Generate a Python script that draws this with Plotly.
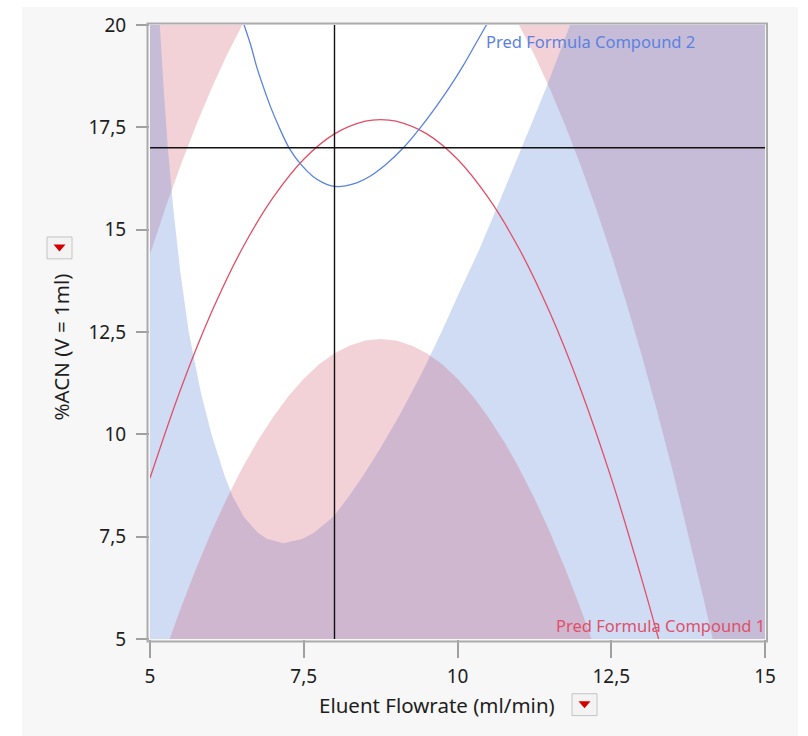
import plotly.graph_objects as go

# ---------------- data ----------------
X_RANGE = [5, 15]
Y_RANGE = [5, 20]
X_TICKS = [5, 7.5, 10, 12.5, 15]
X_TICK_TEXT = ["5", "7,5", "10", "12,5", "15"]
Y_TICKS = [5, 7.5, 10, 12.5, 15, 17.5, 20]
Y_TICK_TEXT = ["5", "7,5", "10", "12,5", "15", "17,5", "20"]
X_TITLE = "Eluent Flowrate (ml/min)"
Y_TITLE = "%ACN (V = 1ml)"
C1_NAME = "Pred Formula Compound 1"
C2_NAME = "Pred Formula Compound 2"

CURRENT_FLOW = 8.0
CURRENT_ACN = 17.0

# Compound 1: contour at current value
c1_line_x = [5.0, 5.5, 6.0, 6.5, 7.0, 7.5, 8.0, 8.5, 8.75, 9.0, 9.5, 10.0, 10.5,
             11.0, 11.5, 12.0, 12.5, 13.0, 13.27]
c1_line_y = [8.93, 11.11, 12.98, 14.54, 15.78, 16.72, 17.34, 17.65, 17.69, 17.65,
             17.34, 16.72, 15.78, 14.54, 12.98, 11.11, 8.93, 6.44, 5.0]

# Compound 1: upper limit contour (left and right parts) -> shaded above
c1_hi_left_x = [5.0, 5.25, 5.5, 5.75, 6.0, 6.25, 6.5]
c1_hi_left_y = [14.40, 15.53, 16.58, 17.55, 18.45, 19.27, 20.0]
c1_hi_right_x = [11.0, 11.25, 11.5, 11.75, 12.0, 12.25, 12.5, 12.75, 13.0, 13.25,
                 13.5, 13.75, 14.0, 14.15]
c1_hi_right_y = [20.0, 19.27, 18.45, 17.55, 16.58, 15.53, 14.40, 13.19, 11.91,
                 10.54, 9.10, 7.58, 5.99, 5.0]

# Compound 1: lower limit contour -> shaded below
c1_lo_x = [5.32, 5.5, 5.75, 6.0, 6.25, 6.5, 6.75, 7.0, 7.25, 7.5, 7.75, 8.0, 8.25,
           8.5, 8.75, 9.0, 9.25, 9.5, 9.75, 10.0, 10.25, 10.5, 10.75, 11.0, 11.25,
           11.5, 11.75, 12.0, 12.18]
c1_lo_y = [5.0, 5.75, 6.72, 7.62, 8.44, 9.18, 9.84, 10.42, 10.93, 11.36, 11.71,
           11.98, 12.17, 12.29, 12.33, 12.29, 12.17, 11.98, 11.71, 11.36, 10.93,
           10.42, 9.84, 9.18, 8.44, 7.62, 6.72, 5.75, 5.0]

# Compound 2: contour at current value
c2_line_x = [6.53, 6.64, 6.73, 6.84, 6.96, 7.10, 7.26, 7.45, 7.65, 7.81, 7.95, 8.06,
             8.18, 8.37, 8.57, 8.84, 9.12, 9.40, 9.65, 9.88, 10.09, 10.28, 10.47]
c2_line_y = [20.0, 19.5, 19.0, 18.5, 18.0, 17.5, 17.0, 16.6, 16.3, 16.15, 16.07, 16.05,
             16.07, 16.15, 16.3, 16.6, 17.0, 17.5, 18.0, 18.5, 19.0, 19.5, 20.0]

# Compound 2: limit contour (U shape) -> shaded outside
c2_lim_x = [5.16, 5.22, 5.29, 5.38, 5.49, 5.63, 5.83, 6.00, 6.21, 6.34, 6.52, 6.75,
            6.90, 7.17, 7.48, 7.67, 7.99, 8.24, 8.47, 8.75, 9.07, 9.42, 9.74, 10.04,
            10.35, 10.63, 10.91, 11.18, 11.45, 11.83]
c2_lim_y = [20.0, 18.5, 17.0, 15.5, 14.0, 12.5, 11.0, 10.0, 9.0, 8.5, 8.0, 7.6,
            7.45, 7.34, 7.45, 7.6, 8.0, 8.5, 9.0, 9.67, 10.5, 11.5, 12.5, 13.5,
            14.5, 15.5, 16.5, 17.5, 18.5, 20.0]

# ---------------- styling ----------------
FONT = "Noto Sans"
PINK = "rgba(207,75,95,0.25)"
BLUE = "rgba(95,138,218,0.30)"
RED_LINE = "#e05068"
BLUE_LINE = "#5a82e0"
TEXT = "#1e1e1e"

FIG_W, FIG_H = 808, 736
L, R, T, B = 150, 765, 22, 639
PW, PH = R - L, B - T


def px(xp):
    return (xp - L) / PW


def py(yp):
    return (B - yp) / PH


x0, x1 = X_RANGE
y0, y1 = Y_RANGE

fig = go.Figure()

fill_common = dict(mode="lines", fill="toself", line=dict(width=0),
                   hoverinfo="skip", showlegend=False)

# upper pink regions (drawn first)
fig.add_trace(go.Scatter(x=c1_hi_left_x + [x0], y=c1_hi_left_y + [y1],
                         fillcolor=PINK, **fill_common))
fig.add_trace(go.Scatter(x=c1_hi_right_x + [x1, x1], y=c1_hi_right_y + [y0, y1],
                         fillcolor=PINK, **fill_common))
# blue region outside the U
fig.add_trace(go.Scatter(x=[x0] + c2_lim_x + [x1, x1, x0],
                         y=[y1] + c2_lim_y + [y1, y0, y0],
                         fillcolor=BLUE, **fill_common))
# lower pink region
fig.add_trace(go.Scatter(x=c1_lo_x, y=c1_lo_y, fillcolor=PINK, **fill_common))

# contour lines
fig.add_trace(go.Scatter(x=c1_line_x, y=c1_line_y, mode="lines",
                         line=dict(color=RED_LINE, width=1.3, shape="spline"),
                         hoverinfo="skip", showlegend=False))
fig.add_trace(go.Scatter(x=c2_line_x, y=c2_line_y, mode="lines",
                         line=dict(color=BLUE_LINE, width=1.3, shape="spline",
                                   smoothing=0.8),
                         hoverinfo="skip", showlegend=False))

# crosshair
fig.add_trace(go.Scatter(x=[CURRENT_FLOW, CURRENT_FLOW], y=[y0, y1], mode="lines",
                         line=dict(color="#111111", width=1.4),
                         hoverinfo="skip", showlegend=False))
fig.add_trace(go.Scatter(x=[x0, x1], y=[CURRENT_ACN, CURRENT_ACN], mode="lines",
                         line=dict(color="#111111", width=1.4),
                         hoverinfo="skip", showlegend=False))

shapes = [
    # light grey panel
    dict(type="rect", xref="paper", yref="paper", x0=px(22), x1=px(798),
         y0=py(737), y1=py(4), fillcolor="#f7f7f7", line=dict(width=0),
         layer="below"),
    # white plot area
    dict(type="rect", xref="x", yref="y", x0=x0, x1=x1, y0=y0, y1=y1,
         fillcolor="white", line=dict(width=0), layer="below"),
    # frame
    dict(type="rect", xref="paper", yref="paper", x0=px(147.5), x1=px(767),
         y0=py(641.5), y1=py(20.5), line=dict(color="#ababab", width=2),
         fillcolor="rgba(0,0,0,0)", layer="above"),
]

# dropdown buttons
for (bx0, bx1, by0, by1) in [(47, 72, 235, 257), (572, 597, 694, 716)]:
    shapes.append(dict(type="rect", xref="paper", yref="paper",
                       x0=px(bx0), x1=px(bx1), y0=py(by1), y1=py(by0),
                       fillcolor="#f3f3f3", line=dict(color="#c4c4c4", width=1),
                       layer="above"))
    cx, cy = (bx0 + bx1) / 2, (by0 + by1) / 2
    path = "M {a},{b} L {c},{d} L {e},{f} Z".format(
        a=px(cx - 6), b=py(cy - 3.5), c=px(cx + 6), d=py(cy - 3.5),
        e=px(cx), f=py(cy + 3.5))
    shapes.append(dict(type="path", xref="paper", yref="paper", path=path,
                       fillcolor="#d40000", line=dict(width=0), layer="above"))

annotations = [
    dict(text=X_TITLE, xref="paper", yref="paper", x=px(437), y=py(705),
         xanchor="center", yanchor="middle", showarrow=False,
         font=dict(family=FONT, size=20.5, color=TEXT)),
    dict(text=Y_TITLE, xref="paper", yref="paper", x=px(61), y=py(346),
         xanchor="center", yanchor="middle", showarrow=False, textangle=-90,
         font=dict(family=FONT, size=20.5, color=TEXT)),
    dict(text=C2_NAME, xref="x", yref="y", x=c2_line_x[-1], y=y1,
         xanchor="left", yanchor="top", yshift=-3, xshift=-2, showarrow=False,
         font=dict(family=FONT, size=16.5, color=BLUE_LINE)),
    dict(text=C1_NAME, xref="x", yref="y", x=x1, y=y0,
         xanchor="right", yanchor="bottom", yshift=0, xshift=2, showarrow=False,
         font=dict(family=FONT, size=16.5, color=RED_LINE)),
]

fig.update_layout(
    width=FIG_W, height=FIG_H,
    margin=dict(l=L, r=FIG_W - R, t=T, b=FIG_H - B),
    paper_bgcolor="white", plot_bgcolor="rgba(0,0,0,0)",
    font=dict(family=FONT, color=TEXT),
    shapes=shapes, annotations=annotations, showlegend=False,
)
fig.update_xaxes(range=X_RANGE, tickvals=X_TICKS, ticktext=X_TICK_TEXT,
                 showgrid=False, zeroline=False, showline=False,
                 ticks="outside", ticklen=18, tickcolor="#a0a0a0", tickwidth=1.5,
                 ticklabelstandoff=2, tickfont=dict(family=FONT, size=19, color=TEXT))
fig.update_yaxes(range=Y_RANGE, tickvals=Y_TICKS, ticktext=Y_TICK_TEXT,
                 showgrid=False, zeroline=False, showline=False,
                 ticks="outside", ticklen=13, tickcolor="#a0a0a0", tickwidth=1.5,
                 ticklabelstandoff=6, tickfont=dict(family=FONT, size=19, color=TEXT))

fig.write_html("out.html", config={"displayModeBar": False})
